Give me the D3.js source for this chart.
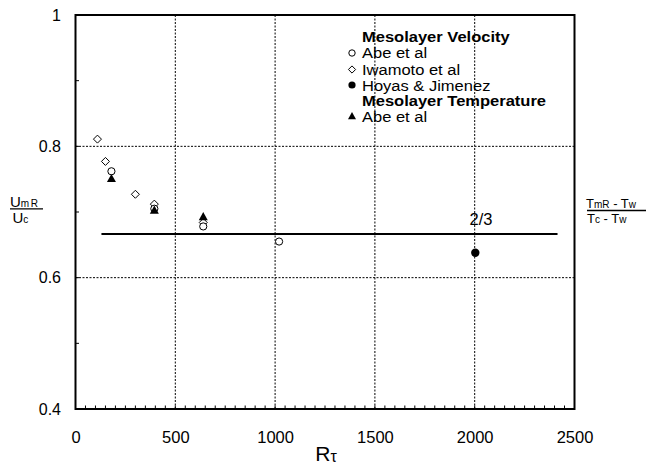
<!DOCTYPE html>
<html><head><meta charset="utf-8">
<script src="https://cdn.jsdelivr.net/npm/d3@7"></script>
<style>body{margin:0;background:#fff}svg{display:block}text{font-family:"Liberation Sans",Arial,sans-serif;fill:#000}</style>
</head><body><svg id="c" width="649" height="466"></svg>
<script>
const xTicks = [0, 500, 1000, 1500, 2000, 2500];
const yTicks = [0.4, 0.6, 0.8, 1];
const xGrid = [500, 1000, 1500, 2000];
const yGrid = [0.6, 0.8];
const abeVelocity = [[180, 0.762], [395, 0.705], [640, 0.678], [1020, 0.655]];
const iwamoto = [[110, 0.811], [150, 0.777], [300, 0.727], [395, 0.712], [640, 0.684]];
const hoyas = [[2003, 0.638]];
const abeTemperature = [[180, 0.751], [395, 0.703], [640, 0.693]];
const refValue = 2 / 3;
const refRange = [130, 2415];

const svg = d3.select("#c");
const L = 75.5, R = 574.5, T = 15, B = 409;
const x = d3.scaleLinear().domain([0, 2500]).range([L, R]);
const y = d3.scaleLinear().domain([0.4, 1]).range([B, T]);

// gridlines
svg.append("g").selectAll("line").data(xGrid).join("line")
  .attr("x1", d => x(d)).attr("x2", d => x(d)).attr("y1", T).attr("y2", B)
  .attr("stroke", "#000").attr("stroke-width", 1).attr("stroke-dasharray", "2,1.5");
svg.append("g").selectAll("line").data(yGrid).join("line")
  .attr("y1", d => y(d)).attr("y2", d => y(d)).attr("x1", L).attr("x2", R)
  .attr("stroke", "#000").attr("stroke-width", 1).attr("stroke-dasharray", "2,1.5");

// minor ticks
const xMinor = d3.range(50, 2500, 50);
svg.append("g").selectAll("line").data(xMinor).join("line")
  .attr("x1", d => x(d)).attr("x2", d => x(d)).attr("y1", B).attr("y2", B - 3.5)
  .attr("stroke", "#000").attr("stroke-width", 1);
const yMinor = [0.5, 0.6, 0.7, 0.8, 0.9];
svg.append("g").selectAll("line").data(yMinor).join("line")
  .attr("y1", d => y(d)).attr("y2", d => y(d)).attr("x1", L).attr("x2", L + 3.5)
  .attr("stroke", "#000").attr("stroke-width", 1);

// frame
svg.append("rect").attr("x", L).attr("y", T).attr("width", R - L).attr("height", B - T)
  .attr("fill", "none").attr("stroke", "#000").attr("stroke-width", 2);

// tick labels via d3 axes
const xAxis = svg.append("g").attr("transform", `translate(0,${B})`)
  .call(d3.axisBottom(x).tickValues(xTicks).tickSize(0).tickPadding(22).tickFormat(d3.format("d")));
xAxis.select(".domain").remove();
xAxis.selectAll("text").attr("font-size", 16.5).style("font-family", "Liberation Sans, Arial");
const yAxis = svg.append("g").attr("transform", `translate(${L},0)`)
  .call(d3.axisLeft(y).tickValues(yTicks).tickSize(0).tickPadding(14.5).tickFormat(d => d === 1 ? "1" : d3.format(".1f")(d)));
yAxis.select(".domain").remove();
yAxis.selectAll("text").attr("font-size", 16).style("font-family", "Liberation Sans, Arial");

// reference line 2/3
svg.append("line").attr("x1", x(refRange[0])).attr("x2", x(refRange[1]))
  .attr("y1", y(refValue)).attr("y2", y(refValue)).attr("stroke", "#000").attr("stroke-width", 2);
svg.append("text").attr("x", x(2032)).attr("y", 225).attr("text-anchor", "middle")
  .attr("font-size", 16.5).text("2/3");

// markers
const diamond = (cx, cy, r) => `M${cx},${cy - r}L${cx + r},${cy}L${cx},${cy + r}L${cx - r},${cy}Z`;
const tri = (cx, cy, r) => `M${cx},${cy - r}L${cx + r},${cy + r * 0.8}L${cx - r},${cy + r * 0.8}Z`;
svg.append("g").selectAll("path").data(iwamoto).join("path")
  .attr("d", d => diamond(x(d[0]), y(d[1]), 4)).attr("fill", "#fff").attr("stroke", "#000").attr("stroke-width", 1);
svg.append("g").selectAll("circle").data(abeVelocity).join("circle")
  .attr("cx", d => x(d[0])).attr("cy", d => y(d[1])).attr("r", 3.6)
  .attr("fill", "#fff").attr("stroke", "#000").attr("stroke-width", 1);
svg.append("g").selectAll("path").data(abeTemperature).join("path")
  .attr("d", d => tri(x(d[0]), y(d[1]), 4.5)).attr("fill", "#000");
svg.append("g").selectAll("circle").data(hoyas).join("circle")
  .attr("cx", d => x(d[0])).attr("cy", d => y(d[1])).attr("r", 4.2).attr("fill", "#000");

// legend: glyphs wide (like 16.5px) but short (14px), as in the reference
const lg = svg.append("g");
const lx = 352, tx = 362;
function legText(yPos, str, bold) {
  const t = lg.append("text").attr("x", tx).attr("y", yPos).attr("font-size", 16.5)
    .attr("font-weight", bold ? "bold" : null).text(str);
  const w = t.node().getComputedTextLength();
  t.attr("font-size", 14).attr("textLength", w).attr("lengthAdjust", "spacingAndGlyphs");
}
legText(42, "Mesolayer Velocity", true);
lg.append("circle").attr("cx", lx).attr("cy", 53).attr("r", 3.2).attr("fill", "#fff").attr("stroke", "#000");
legText(58, "Abe et al");
lg.append("path").attr("d", diamond(lx, 69.5, 3.6)).attr("fill", "#fff").attr("stroke", "#000");
legText(74.5, "Iwamoto et al");
lg.append("circle").attr("cx", lx).attr("cy", 85).attr("r", 3.6).attr("fill", "#000");
legText(90.5, "Hoyas & Jimenez");
legText(106, "Mesolayer Temperature", true);
lg.append("path").attr("d", tri(lx, 116, 4)).attr("fill", "#000");
legText(121.5, "Abe et al");

// x title
const xt = svg.append("text").attr("x", 326).attr("y", 461).attr("text-anchor", "middle").attr("font-size", 21);
xt.append("tspan").text("R");
xt.append("tspan").attr("font-size", 16).attr("dy", 1).text("τ");

// y left label (fraction)
const yl = svg.append("g");
const n1 = yl.append("text").attr("x", 10).attr("y", 207).attr("font-size", 15);
n1.append("tspan").text("U");
n1.append("tspan").attr("font-size", 10).attr("letter-spacing", 1.5).text("mR");
yl.append("line").attr("x1", 10).attr("x2", 43).attr("y1", 208.8).attr("y2", 208.8).attr("stroke", "#000").attr("stroke-width", 1.3);
const d1 = yl.append("text").attr("x", 12.5).attr("y", 222.5).attr("font-size", 15);
d1.append("tspan").text("U");
d1.append("tspan").attr("font-size", 10).text("c");

// right label (fraction)
const rl = svg.append("g");
const n2 = rl.append("text").attr("x", 586).attr("y", 208).attr("font-size", 13);
n2.append("tspan").text("T");
n2.append("tspan").attr("font-size", 10).text("mR");
n2.append("tspan").text(" - T");
n2.append("tspan").attr("font-size", 10).text("w");
rl.append("line").attr("x1", 587).attr("x2", 646).attr("y1", 210.5).attr("y2", 210.5).attr("stroke", "#000").attr("stroke-width", 1.3);
const d2 = rl.append("text").attr("x", 587).attr("y", 223).attr("font-size", 13);
d2.append("tspan").text("T");
d2.append("tspan").attr("font-size", 10).text("c");
d2.append("tspan").text(" - T");
d2.append("tspan").attr("font-size", 10).text("w");
</script></body></html>
